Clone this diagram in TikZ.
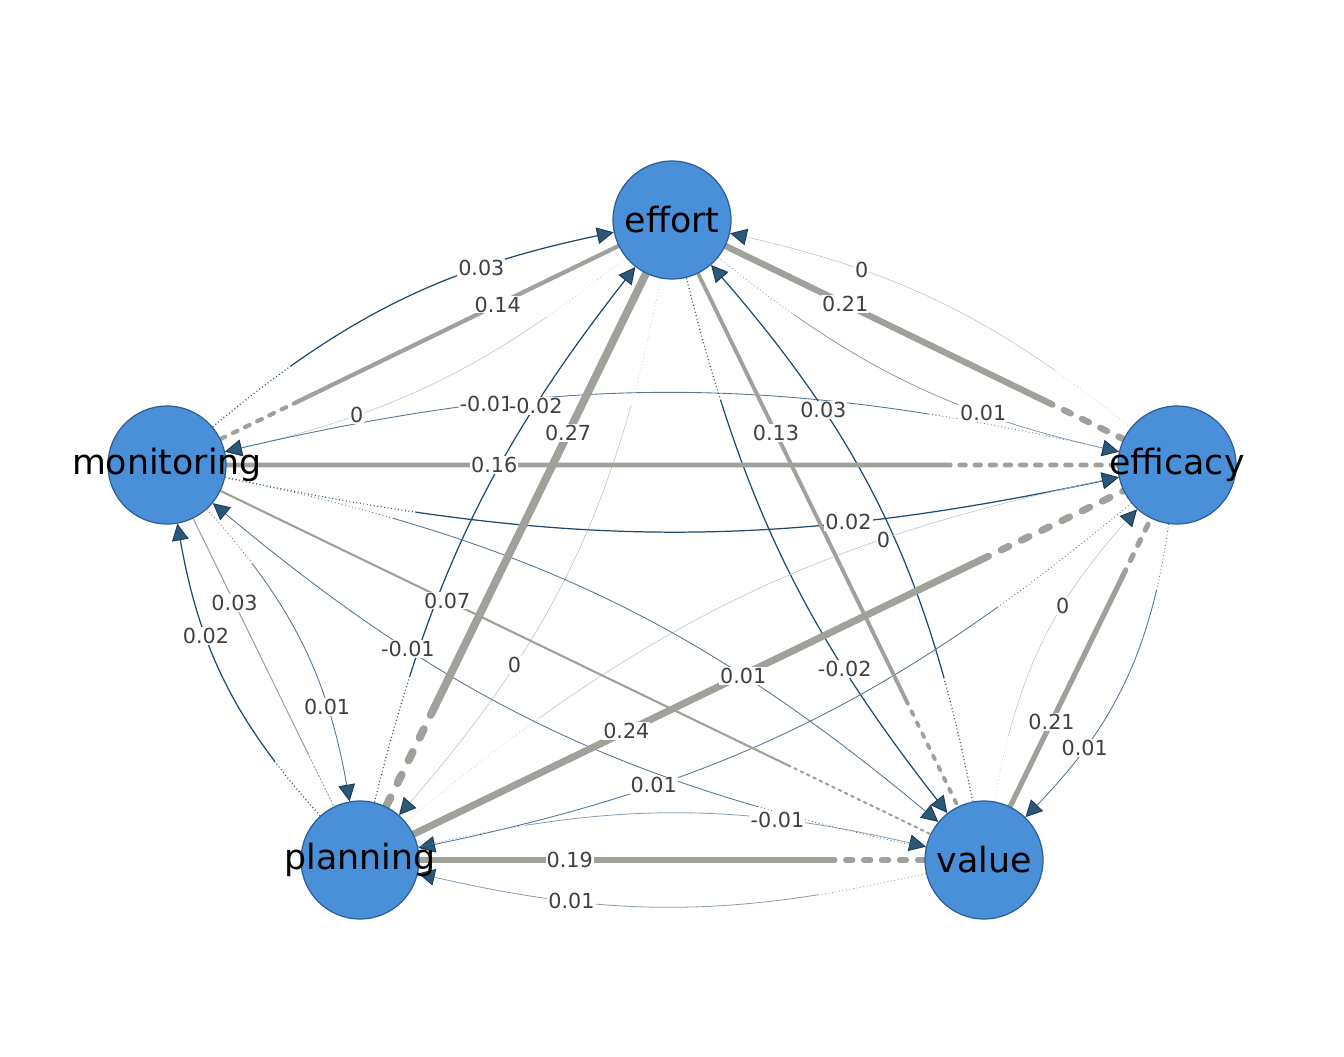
\documentclass[tikz,border=0pt]{standalone}
\usepackage{fontspec}
\setmainfont{DejaVu Sans}
\usetikzlibrary{arrows.meta,calc}

\definecolor{nodefill}{HTML}{4A90D9}
\definecolor{nodeline}{HTML}{2C5F98}
\definecolor{edgeblue}{HTML}{1D4A70}
\definecolor{arrowblue}{HTML}{2B5878}
\definecolor{arrowline}{HTML}{1B3A55}
\definecolor{edgegrey}{HTML}{A0A19A}
\definecolor{labeltext}{HTML}{404040}

\pgfdeclarelayer{back}
\pgfsetlayers{back,main}

% dotted for the first #1 dots, solid afterwards
\tikzset{dotstart/.code={%
    \def\dotlist{}%
    \foreach \k in {1,...,#1}{\xdef\dotlist{\dotlist\space on 0.5pt off 1.5pt}}%
    \pgfkeysalso{/tikz/dash pattern/.expanded={\dotlist\space on 3000pt off 1pt}}}}

\begin{document}
\begin{tikzpicture}[x=0.02cm,y=-0.02cm,
	vertex/.style={circle,draw=nodeline,line width=0.7pt,fill=nodefill,minimum size=2.36cm,inner sep=0pt},
	vname/.style={font=\fontsize{19.8}{22}\selectfont,text=black,inner sep=0pt},
	elabel/.style={fill=white,inner sep=0.6pt,font=\fontsize{11.8}{13}\selectfont,text=labeltext},
	tedge/.style={-{Triangle[length=9.5pt,width=9.5pt,color=arrowline,fill=arrowblue,line width=0.5pt]}},
	wstrong/.style={draw=edgeblue,line width=0.7pt},
	wmid/.style={draw=edgeblue!75!white,line width=0.5pt},
	wlow/.style={draw=edgeblue!55!white,line width=0.45pt},
	wzero/.style={draw=edgeblue!35!white,line width=0.3pt},
	gline/.style={draw=edgegrey,line cap=round}]
	\useasboundingbox (0,0) rectangle (1344,1056);

	\node[vertex] (E) at (672,220) {};
	\node[vertex] (M) at (167,465) {};
	\node[vertex] (F) at (1177,465) {};
	\node[vertex] (P) at (360,860) {};
	\node[vertex] (V) at (984,860) {};

	\coordinate (gEM) at ($(E)!0.74!(M)$);
	\coordinate (gEF) at ($(E)!0.74!(F)$);
	\coordinate (gMF) at ($(M)!0.77!(F)$);
	\coordinate (gEP) at ($(E)!0.76!(P)$);
	\coordinate (gEV) at ($(E)!0.75!(V)$);
	\coordinate (gMV) at ($(M)!0.76!(V)$);
	\coordinate (gPF) at ($(P)!0.76!(F)$);
	\coordinate (gVF) at ($(V)!0.72!(F)$);
	\coordinate (gPV) at ($(P)!0.75!(V)$);
	\coordinate (gMP) at ($(M)!0.73!(P)$);

	\begin{pgfonlayer}{back}
	% lagged edges
	\draw[tedge,wstrong,dotstart=28] (M) to[bend left=14] coordinate[pos=.71] (cME) (E);
	\draw[tedge,wzero,dotstart=28] (E) to[bend left=13] coordinate[pos=.71] (cEM) (M);
	\draw[tedge,wmid,dotstart=55] (F) to[bend right=13] coordinate[pos=.72] (cFM) (M);
	\draw[tedge,wstrong,dotstart=55] (M) to[bend right=12] coordinate[pos=.71] (cMF) (F);
	\draw[tedge,wlow,dotstart=27] (E) to[bend right=13] coordinate[pos=.70] (cEF) (F);
	\draw[tedge,wzero,dotstart=27] (F) to[bend right=13] coordinate[pos=.71] (cFE) (E);
	\draw[tedge,wstrong,dotstart=37] (P) to[bend left=12] coordinate[pos=.73] (cPE) (E);
	\draw[tedge,wzero,dotstart=37] (E) to[bend left=15] coordinate[pos=.70] (cEP) (P);
	\draw[tedge,wstrong,dotstart=36] (V) to[bend right=15] coordinate[pos=.71] (cVE) (E);
	\draw[tedge,wstrong,dotstart=36] (E) to[bend right=12] coordinate[pos=.72] (cEV) (V);
	\draw[tedge,wzero,dotstart=48] (P) to[bend left=14] coordinate[pos=.71] (cPF) (F);
	\draw[tedge,wmid,dotstart=48] (F) to[bend left=14] coordinate[pos=.71] (cFP) (P);
	\draw[tedge,wzero,dotstart=19] (V) to[bend left=16] coordinate[pos=.64] (cVF) (F);
	\draw[tedge,wmid,dotstart=19] (F) to[bend left=18] coordinate[pos=.74] (cFV) (V);
	\draw[tedge,wstrong,dotstart=20] (P) to[bend left=16] coordinate[pos=.66] (cPM) (M);
	\draw[tedge,wmid,dotstart=20] (M) to[bend left=16] coordinate[pos=.72] (cMP) (P);
	\draw[tedge,wmid,dotstart=49] (M) to[bend left=14] coordinate[pos=.71] (cMV) (V);
	\draw[tedge,wmid,dotstart=49] (V) to[bend left=14] coordinate[pos=.71] (cVM) (M);
	\draw[tedge,wlow,dotstart=31] (P) to[bend left=13] coordinate[pos=.72] (cPV) (V);
	\draw[tedge,wlow,dotstart=31] (V) to[bend left=13] coordinate[pos=.71] (cVP) (P);

	% contemporaneous edges
	\draw[gline,line width=2.4pt] (E) -- (gEM);
	\draw[gline,line width=2.4pt,dash pattern=on 2.9pt off 4.8pt] (gEM) -- (M);
	\draw[gline,line width=3.6pt] (E) -- (gEF);
	\draw[gline,line width=3.6pt,dash pattern=on 4.3pt off 7.2pt] (gEF) -- (F);
	\draw[gline,line width=2.7pt] (M) -- (gMF);
	\draw[gline,line width=2.7pt,dash pattern=on 3.2pt off 5.4pt] (gMF) -- (F);
	\draw[gline,line width=4.5pt] (E) -- (gEP);
	\draw[gline,line width=4.5pt,dash pattern=on 5.4pt off 9pt] (gEP) -- (P);
	\draw[gline,line width=2.2pt] (E) -- (gEV);
	\draw[gline,line width=2.2pt,dash pattern=on 2.6pt off 4.4pt] (gEV) -- (V);
	\draw[gline,line width=1.2pt] (M) -- (gMV);
	\draw[gline,line width=1.2pt,dash pattern=on 1.6pt off 2.4pt] (gMV) -- (V);
	\draw[gline,line width=4pt] (P) -- (gPF);
	\draw[gline,line width=4pt,dash pattern=on 4.8pt off 8pt] (gPF) -- (F);
	\draw[gline,line width=3pt] (V) -- (gVF);
	\draw[gline,line width=3pt,dash pattern=on 3.6pt off 6pt] (gVF) -- (F);
	\draw[gline,line width=3.2pt] (P) -- (gPV);
	\draw[gline,line width=3.2pt,dash pattern=on 3.8pt off 6.4pt] (gPV) -- (V);
	\draw[gline,line width=0.6pt] (M) -- (gMP);
	\draw[gline,line width=0.6pt,dash pattern=on 0.8pt off 1.2pt] (gMP) -- (P);
	\end{pgfonlayer}

	% labels of contemporaneous edges
	\node[elabel] (lEM) at ($(E)!0.345!(M)$) {0.14};
	\node[elabel] (lEF) at ($(E)!0.343!(F)$) {0.21};
	\node[elabel] (lMF) at ($(M)!0.324!(F)$) {0.16};
	\node[elabel] (lEP) at ($(E)!0.333!(P)$) {0.27};
	\node[elabel] (lEV) at ($(E)!0.333!(V)$) {0.13};
	\node[elabel] (lMV) at ($(M)!0.343!(V)$) {0.07};
	\node[elabel] (lPF) at ($(P)!0.326!(F)$) {0.24};
	\node[elabel] (lVF) at ($(V)!0.35!(F)$) {0.21};
	\node[elabel] (lPV) at ($(P)!0.336!(V)$) {0.19};
	\node[elabel] (lMP) at ($(M)!0.35!(P)$) {0.03};

	% labels of lagged edges
	\node[elabel] (tME) at (cME) {0.03};
	\node[elabel] (tEM) at (cEM) {0};
	\node[elabel] (tFM) at (cFM) {-0.01};
	\node[elabel] (tMF) at (cMF) {0.02};
	\node[elabel] (tEF) at (cEF) {0.01};
	\node[elabel] (tFE) at (cFE) {0};
	\node[elabel] (tPE) at (cPE) {-0.02};
	\node[elabel] (tEP) at (cEP) {0};
	\node[elabel] (tVE) at (cVE) {0.03};
	\node[elabel] (tEV) at (cEV) {-0.02};
	\node[elabel] (tPF) at (cPF) {0};
	\node[elabel] (tFP) at (cFP) {0.01};
	\node[elabel] (tVF) at (cVF) {0};
	\node[elabel] (tFV) at (cFV) {0.01};
	\node[elabel] (tPM) at (cPM) {0.02};
	\node[elabel] (tMP) at (cMP) {0.01};
	\node[elabel] (tMV) at (cMV) {0.01};
	\node[elabel] (tVM) at (cVM) {-0.01};
	\node[elabel] (tPV) at (cPV) {-0.01};
	\node[elabel] (tVP) at (cVP) {0.01};

	\node[vname] (nE) at (E) {effort};
	\node[vname] (nM) at (M) {monitoring};
	\node[vname] (nF) at (F) {efficacy};
	\node[vname] (nP) at (P) {planning};
	\node[vname] (nV) at (V) {value};
\end{tikzpicture}
\end{document}
